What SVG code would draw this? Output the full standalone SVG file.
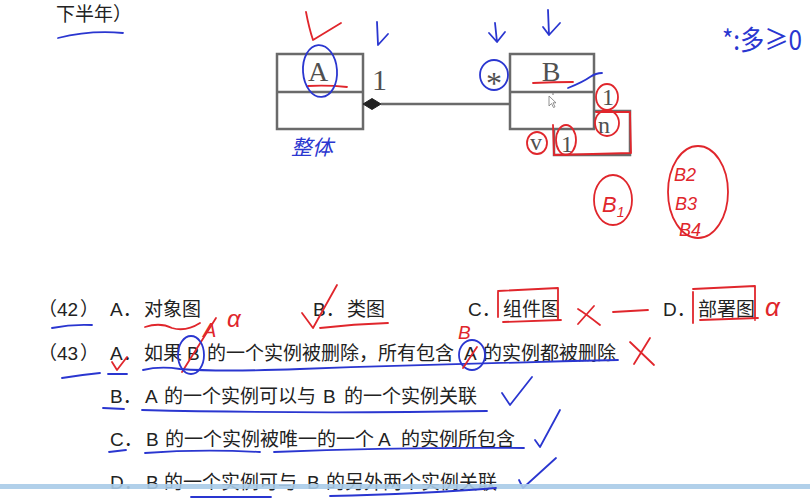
<svg xmlns="http://www.w3.org/2000/svg" width="810" height="499" viewBox="0 0 810 499">
<style>
.box{fill:#fff;stroke:#6a6a6a;stroke-width:2.5}
.gl{fill:none;stroke:#6a6a6a;stroke-width:2.5}
.uml{font-family:"Liberation Serif",serif;fill:#505050}
.q{font-family:"Liberation Sans","Noto Sans CJK SC",sans-serif;font-size:19px;fill:#222}
.red{fill:none;stroke:#e0262c;stroke-width:1.8;stroke-linecap:round;stroke-linejoin:round}
.blue{fill:none;stroke:#2a36d0;stroke-width:1.8;stroke-linecap:round;stroke-linejoin:round}
.rt{font-family:"Liberation Sans","Noto Sans CJK SC",sans-serif;fill:#e0262c;font-style:italic}
.bt{font-family:"Noto Sans CJK SC",sans-serif;fill:#2a36d0}
</style>
<rect width="810" height="499" fill="#fff"/>

<!-- header text -->
<text x="56" y="21" font-family="Noto Sans CJK SC,sans-serif" font-size="19" fill="#222">下半年）</text>
<path class="blue" d="M58,38 Q90,30 123,33" stroke-width="2.2"/>

<!-- class A -->
<g id="classA">
  <rect class="box" x="277" y="54" width="86" height="75"/>
  <line class="gl" x1="277" y1="92" x2="363" y2="92"/>
  <text class="uml" x="318" y="81" font-size="28" text-anchor="middle">A</text>
</g>
<!-- class B -->
<g id="classB">
  <rect class="box" x="510" y="54" width="84" height="75"/>
  <line class="gl" x1="510" y1="92" x2="594" y2="92"/>
  <text class="uml" x="551" y="81" font-size="28" text-anchor="middle">B</text>
</g>

<!-- connectors -->
<g id="connectors">
  <polygon points="363,104 372,98.5 381,104 372,109.5" fill="#222" stroke="#222" stroke-width="1"/>
  <line class="gl" x1="381" y1="104" x2="510" y2="104"/>
  <path class="gl" d="M594,111 H630 V155 H554 V129"/>
  <text class="uml" x="372" y="90" font-size="30">1</text>
  <text class="uml" x="486" y="94" font-size="32">*</text>
  <text class="uml" x="602" y="105" font-size="24">1</text>
  <text class="uml" x="598" y="133" font-size="24">n</text>
  <text class="uml" x="530" y="150" font-size="24">v</text>
  <text class="uml" x="561" y="152" font-size="24">1</text>
</g>

<!-- cursor -->
<polygon points="549,96 549,106 551.5,103.5 553.5,107.5 555,106.8 553,102.8 556,102.8" fill="#fff" stroke="#777" stroke-width="0.8"/>
<circle cx="553" cy="94" r="0.9" fill="#999"/>

<!-- diagram annotations -->
<path class="red" d="M306,12 Q309,28 313,40 L341,23"/>
<path class="red" d="M308,86 Q328,85 347,87"/>
<ellipse class="blue" cx="320" cy="71" rx="17" ry="26" transform="rotate(-4 320 71)"/>
<path class="blue" d="M377,22 L378,45 L388,34"/>
<path class="blue" d="M495,23 L497,42 L505,32 M489,33 L497,42"/>
<path class="blue" d="M548,10 L549,35 L560,23 M543,27 L549,35"/>
<ellipse class="blue" cx="494" cy="75" rx="14" ry="15"/>
<path class="red" d="M533,83 Q553,82 573,82"/>
<path class="blue" d="M568,88 Q583,82 590,77 Q596,73 602,73"/>
<ellipse class="red" cx="607" cy="97" rx="11" ry="13"/>
<ellipse class="red" cx="607" cy="123" rx="12" ry="13"/>
<ellipse class="red" cx="537" cy="143" rx="10" ry="11"/>
<ellipse class="red" cx="566" cy="140" rx="10" ry="15"/>
<path class="red" d="M553,125 L554,155 L631,153 L630,112 L596,112"/>
<text class="bt" x="291" y="155" font-size="21" font-style="italic">整体</text>
<text class="bt" x="722" y="50" font-size="27" textLength="80" lengthAdjust="spacingAndGlyphs">*:多≥0</text>

<text class="rt" x="602" y="212" font-size="22">B<tspan font-size="14" dy="5">1</tspan></text>
<ellipse class="red" cx="613" cy="200" rx="19" ry="25"/>
<text class="rt" x="674" y="181" font-size="18">B2</text>
<text class="rt" x="675" y="210" font-size="18">B3</text>
<text class="rt" x="679" y="236" font-size="18">B4</text>
<ellipse class="red" cx="698" cy="192" rx="30" ry="46"/>

<!-- question 42 -->
<g id="q42" class="q">
  <text x="38" y="316">（</text><text x="57" y="316">42</text><text x="80" y="316">）</text>
  <text x="110" y="316">A．</text><text x="144" y="316">对象图</text>
  <text x="313" y="316">B．</text><text x="347" y="316">类图</text>
  <text x="468" y="316">C．</text><text x="503" y="316">组件图</text>
  <text x="663" y="316">D．</text><text x="698" y="316">部署图</text>
</g>
<!-- question 43 -->
<g id="q43" class="q">
  <text x="38" y="360">（</text><text x="57" y="360">43</text><text x="80" y="360">）</text>
  <text x="110" y="360">A．</text><text x="144" y="360">如果</text>
  <text x="187" y="360">B</text><text x="207" y="360">的一个实例被删除，所有包含</text>
  <text x="464" y="360">A</text><text x="483" y="360">的实例都被删除</text>
  <text x="110" y="403">B．</text><text x="145" y="403">A</text><text x="164" y="403">的一个实例可以与</text>
  <text x="323" y="403">B</text><text x="344" y="403">的一个实例关联</text>
  <text x="110" y="446">C．</text><text x="146" y="446">B</text><text x="165" y="446">的一个实例被唯一的一个</text>
  <text x="378" y="446">A</text><text x="401" y="446">的实例所包含</text>
  <text x="110" y="489">D．</text><text x="146" y="489">B</text><text x="164" y="489">的一个实例可与</text>
  <text x="307" y="489">B</text><text x="326" y="489">的另外两个实例关联</text>
</g>

<!-- answer annotations -->
<path class="blue" d="M52,328 Q72,324 92,325"/>
<path class="red" d="M145,327 Q160,322 172,328 Q186,332 200,323"/>
<path class="red" d="M302,313 L313,328 L337,285"/>
<path class="red" d="M320,328 Q354,324 388,323"/>
<path class="red" d="M182,372 L216,318"/>
<text class="rt" x="203" y="337" font-size="20">A</text>
<text class="rt" x="227" y="327" font-size="24">α</text>
<path class="red" d="M498,292 L498,317 M498,291 L558,288 L558,320 M503,322 L561,320"/>
<path class="red" d="M693,292 L693,323 M693,289 L755,286 L755,320 M700,320 L758,318"/>
<path class="red" d="M578,309 Q586,314 600,325 M594,306 Q586,315 578,324"/>
<path class="red" d="M613,312 L648,310"/>
<text class="rt" x="765" y="316" font-size="26">α</text>

<path class="blue" d="M62,378 Q80,375 100,373"/>
<path class="red" d="M112,362 L117,370 L127,357"/>
<path class="blue" d="M108,374 L127,374"/>
<path class="blue" d="M143,370 Q160,366 180,369 Q220,372 300,369 Q450,364 618,360"/>
<ellipse class="blue" cx="191" cy="355" rx="13" ry="19"/>
<ellipse class="blue" cx="472" cy="355" rx="13" ry="15"/>
<text class="rt" x="458" y="339" font-size="19">B</text>
<path class="red" d="M463,368 L477,347"/>
<path class="red" d="M630,342 L654,365 M650,338 L634,364"/>

<path class="blue" d="M103,408 L124,409"/>
<path class="blue" d="M142,410 Q300,414 487,411"/>
<path class="blue" d="M502,393 L510,405 L532,377"/>
<path class="blue" d="M109,452 L126,450"/>
<path class="blue" d="M145,453 Q200,449 260,452 M274,452 Q400,447 524,448"/>
<path class="blue" d="M535,440 L540,447 L560,410"/>
<path class="blue" d="M519,480 L523,488 L556,458"/>

<!-- light blue bar -->
<rect x="0" y="484" width="810" height="5" fill="#a9cbe8" opacity="0.9"/>
<path class="blue" d="M191,497 L271,497 M330,496 Q420,494 496,488"/>
</svg>
